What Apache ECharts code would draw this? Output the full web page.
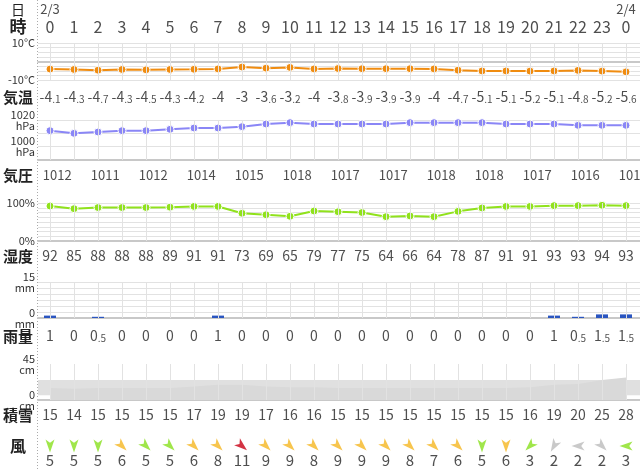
<!DOCTYPE html>
<html lang="ja">
<head>
<meta charset="UTF-8">
<title>天気</title>
<script src="https://cdn.jsdelivr.net/npm/echarts@6/dist/echarts.min.js"></script>
<style>
  * { margin: 0; padding: 0 }
  html, body { width: 100%; height: 100%; background: #fff; }
  #main { width: 640px; height: 470px; }
</style>
</head>
<body>
<div id="main"></div>
<script type="text/javascript">
// データ
var hours = [0, 1, 2, 3, 4, 5, 6, 7, 8, 9, 10, 11, 12, 13, 14, 15, 16, 17, 18, 19, 20, 21, 22, 23, 0];
var dates = [[0, '2/3'], [24, '2/4']];
var temp = [-4.1, -4.3, -4.7, -4.3, -4.5, -4.3, -4.2, -4, -3, -3.6, -3.2, -4, -3.8, -3.9, -3.9, -3.9, -4, -4.7, -5.1, -5.1, -5.2, -5.1, -4.8, -5.2, -5.6];
var pressure = [1012, 1010, 1011, 1012, 1012, 1013, 1014, 1014, 1015, 1017, 1018, 1017, 1017, 1017, 1017, 1018, 1018, 1018, 1018, 1017, 1017, 1017, 1016, 1016, 1016];
var pressureLabels = [1012, 1011, 1012, 1014, 1015, 1018, 1017, 1017, 1018, 1018, 1017, 1016, 1016];
var humidity = [92, 85, 88, 88, 88, 89, 91, 91, 73, 69, 65, 79, 77, 75, 64, 66, 64, 78, 87, 91, 91, 93, 93, 94, 93];
var rain = [1, 0, 0.5, 0, 0, 0, 0, 1, 0, 0, 0, 0, 0, 0, 0, 0, 0, 0, 0, 0, 0, 1, 0.5, 1.5, 1.5];
var snow = [15, 14, 15, 15, 15, 15, 17, 19, 19, 17, 16, 16, 15, 15, 15, 15, 15, 15, 15, 15, 16, 19, 20, 25, 28];
var windSpeed = [5, 5, 5, 6, 5, 5, 6, 8, 11, 9, 9, 8, 9, 9, 9, 8, 7, 6, 5, 6, 3, 2, 2, 2, 3];
var windDir = [180, 180, 180, 135, 135, 135, 135, 135, 130, 135, 135, 135, 135, 135, 135, 135, 135, 135, 180, 180, 225, 210, 270, 135, 270];

var FONT = 'Noto Sans CJK JP';
var XMAX = -0.5 + 602 / 24;
var grids = [], xAxes = [], yAxes = [], series = [];

// 縦の補助線
function vLines() {
    return {
        silent: true, symbol: 'none', label: {show: false},
        lineStyle: {color: '#e2e2e2', width: 1, type: 'solid'},
        data: hours.map(function (h, i) { return {xAxis: i}; })
    };
}

function addGrid(top, height, yAxis, showBottom) {
    var idx = grids.length;
    grids.push({left: 38, right: 0, top: top, height: height});
    xAxes.push({
        gridIndex: idx, type: 'value', min: -0.5, max: XMAX,
        axisLabel: {show: false}, axisTick: {show: false}, splitLine: {show: false},
        axisLine: {show: !!showBottom, lineStyle: {color: '#c8c8c8', width: 2}}
    });
    yAxis.gridIndex = idx;
    yAxes.push(yAxis);
    return idx;
}

function smallDec(v) {
    var s = String(v);
    var p = s.split('.');
    return p.length > 1 ? '{a|' + p[0] + '}{b|.' + p[1] + '}' : '{a|' + s + '}';
}

function textRow(top, data, fmt, size) {
    var idx = addGrid(top - 10, 20, {type: 'value', min: 0, max: 1, show: false});
    series.push({
        type: 'scatter', xAxisIndex: idx, yAxisIndex: idx, symbolSize: 1,
        itemStyle: {color: 'transparent'}, silent: true,
        data: data.map(function (d) { return [d[0], 0.5, d[1]]; }),
        label: {
            show: true, position: 'inside', color: '#222', fontFamily: FONT, fontSize: size,
            formatter: function (p) { return fmt(p.data[2]); },
            rich: {a: {fontSize: size, fontFamily: FONT, color: '#222'}, b: {fontSize: size - 4, fontFamily: FONT, color: '#222', padding: [4, 0, 0, 0]}}
        }
    });
}

function yLab(fn) {
    return {show: true, color: '#333', fontSize: 11, fontFamily: FONT, margin: 3, lineHeight: 11, formatter: fn};
}
function ySplit() { return {show: true, lineStyle: {color: '#e2e2e2'}}; }

function idxData(arr) { return arr.map(function (v, i) { return [i, v]; }); }

// 日・時
textRow(9, dates, function (v) { return v; }, 13);
textRow(27, idxData(hours), function (v) { return String(v); }, 16);

// 気温
var g = addGrid(43, 37, {type: 'value', min: -10, max: 10, interval: 2.5, splitLine: ySplit(),
    axisLine: {show: false}, axisTick: {show: false},
    axisLabel: yLab(function (v) { return v === 10 ? '10°C' : (v === -10 ? '-10°C' : ''); })}, true);
series.push({type: 'line', xAxisIndex: g, yAxisIndex: g, data: idxData(temp), symbol: 'circle', symbolSize: 8,
    lineStyle: {color: '#f08c10', width: 2}, itemStyle: {color: '#f08c10', borderColor: '#fff', borderWidth: 1},
    markLine: vLines()});
textRow(97, idxData(temp), smallDec, 14);

// 気圧
g = addGrid(120, 40, {type: 'value', min: 990, max: 1020, interval: 10, splitLine: ySplit(),
    axisLine: {show: false}, axisTick: {show: false},
    axisLabel: yLab(function (v) { return v === 1020 || v === 1000 ? v + '\nhPa' : ''; })}, true);
series.push({type: 'line', xAxisIndex: g, yAxisIndex: g, data: idxData(pressure), symbol: 'circle', symbolSize: 8,
    lineStyle: {color: '#8a86f6', width: 2}, itemStyle: {color: '#8a86f6', borderColor: '#fff', borderWidth: 1},
    markLine: vLines()});
textRow(175, pressureLabels.map(function (v, k) { return [k * 2 + 0.3, v]; }), function (v) { return String(v); }, 13);

// 湿度
g = addGrid(203, 38, {type: 'value', min: 0, max: 100, interval: 12.5, splitLine: ySplit(),
    axisLine: {show: false}, axisTick: {show: false},
    axisLabel: yLab(function (v) { return v === 100 ? '100%' : (v === 0 ? '0%' : ''); })}, true);
series.push({type: 'line', xAxisIndex: g, yAxisIndex: g, data: idxData(humidity), symbol: 'circle', symbolSize: 8,
    lineStyle: {color: '#90e21c', width: 2}, itemStyle: {color: '#90e21c', borderColor: '#fff', borderWidth: 1},
    markLine: vLines()});
textRow(256, idxData(humidity), function (v) { return String(v); }, 14);

// 雨量
g = addGrid(282, 36, {type: 'value', min: 0, max: 15, interval: 2.5, splitLine: ySplit(),
    axisLine: {show: false}, axisTick: {show: false},
    axisLabel: yLab(function (v) { return v === 15 || v === 0 ? v + '\nmm' : ''; })}, true);
series.push({type: 'bar', xAxisIndex: g, yAxisIndex: g, data: idxData(rain), barWidth: 12,
    itemStyle: {color: '#2a55c0'}, markLine: vLines()});
textRow(336, idxData(rain), smallDec, 14);

// 積雪
g = addGrid(364, 36, {type: 'value', min: 0, max: 45, interval: 45, splitLine: {show: false},
    axisLine: {show: false}, axisTick: {show: false},
    axisLabel: yLab(function (v) { return v + '\ncm'; })}, true);
series.push({type: 'line', xAxisIndex: g, yAxisIndex: g, data: idxData(snow), symbol: 'none',
    lineStyle: {width: 0}, areaStyle: {color: '#d9d9d9', opacity: 1}, z: 1, markLine: vLines(),
    markArea: {silent: true, itemStyle: {color: '#e0e0e0'}, data: [[{yAxis: 6}, {yAxis: 25}]]}});
textRow(415, idxData(snow), function (v) { return String(v); }, 14);

// 風
function windColor(s) {
    if (s <= 2) return '#bbbbbb';
    if (s <= 5) return '#88e01e';
    if (s <= 9) return '#f5b622';
    return '#c80014';
}
g = addGrid(439, 14, {type: 'value', min: 0, max: 1, show: false});
series.push({
    type: 'scatter', xAxisIndex: g, yAxisIndex: g, silent: true,
    symbol: 'path://M0,-10 L6,10 L0,5 L-6,10 Z', symbolSize: [9, 13],
    data: windSpeed.map(function (s, i) {
        return {value: [i, 0.5], symbolRotate: -windDir[i], itemStyle: {color: windColor(s)}};
    })
});
textRow(460, idxData(windSpeed), function (v) { return String(v); }, 15);

var leftLabels = [['日', 10, 'normal', 14], ['時', 27, 'bold', 17], ['気温', 97, 'bold', 15], ['気圧', 175, 'bold', 15],
    ['湿度', 256, 'bold', 15], ['雨量', 336, 'bold', 15], ['積雪', 415, 'bold', 15], ['風', 446, 'bold', 16]];

var myChart = echarts.init(document.getElementById('main'));
myChart.setOption({
    animation: false,
    grid: grids, xAxis: xAxes, yAxis: yAxes, series: series,
    graphic: [{
        type: 'line', shape: {x1: 37.5, y1: 0, x2: 37.5, y2: 470}, silent: true,
        style: {stroke: '#aaa', lineWidth: 1, lineDash: [1, 2]}
    }].concat(leftLabels.map(function (l) {
        return {type: 'text', x: 18, y: l[1], silent: true,
            style: {text: l[0], fill: '#222', font: l[2] + ' ' + l[3] + 'px "' + FONT + '"', align: 'center', verticalAlign: 'middle'}};
    }))
});
</script>
</body>
</html>
